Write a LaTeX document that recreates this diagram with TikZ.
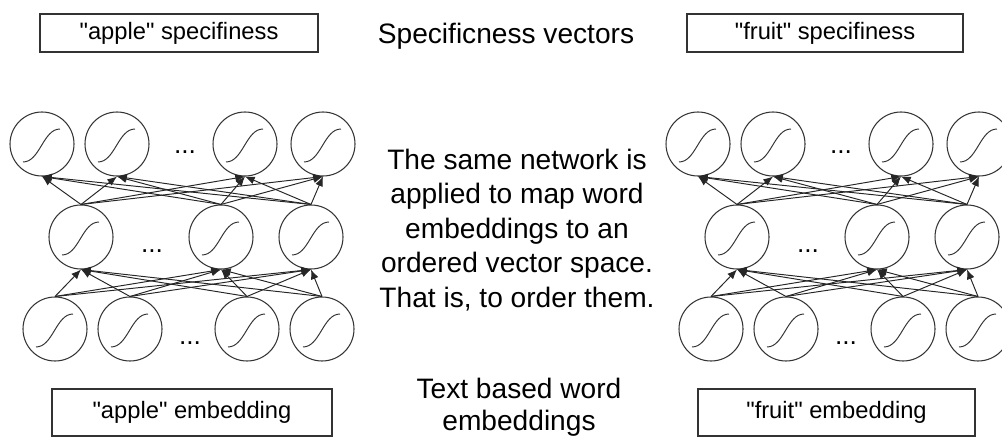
\documentclass[tikz,border=0pt]{standalone}
\usepackage{fontspec}
\setmainfont{Liberation Sans}[Ligatures=TeXOff]
\usetikzlibrary{arrows.meta}

\begin{document}
\begin{tikzpicture}[
		neuron/.style={circle, draw=black!80, line width=0.6pt, minimum size=1.28cm, inner sep=0pt,
			path picture={\draw[black!80, line width=0.55pt, shift={(path picture bounding box.center)}]
				(-0.38,-0.36) .. controls (-0.04,-0.36) and (0.02,0.30) .. (0.36,0.30);}},
		labelbox/.style={draw=black!80, line width=0.6pt, font=\fontsize{13.5}{16}\selectfont},
		bigtext/.style={align=center, inner sep=0pt, font=\fontsize{16}{19.6}\selectfont},
		dots/.style={anchor=base, inner sep=0pt, font=\fontsize{15}{18}\selectfont},
		link/.style={-{Latex[length=5.5pt, width=4.5pt]}, draw=black!85, line width=0.55pt}
	]
	\path[use as bounding box, clip] (0,0) rectangle (20.04,8.74);

	% the two networks, apple on the left, fruit on the right
	\foreach \n/\dx in {apple/0, fruit/13.12} {
		\begin{scope}[xshift=\dx cm]
			\node[neuron] (\n-t1) at (0.84,5.86) {};
			\node[neuron] (\n-t2) at (2.34,5.86) {};
			\node[neuron] (\n-t3) at (4.90,5.86) {};
			\node[neuron] (\n-t4) at (6.46,5.86) {};
			\node[dots] (\n-tdots) at (3.70,5.68) {...};

			\node[neuron] (\n-m1) at (1.62,4.00) {};
			\node[neuron] (\n-m2) at (4.42,4.00) {};
			\node[neuron] (\n-m3) at (6.22,4.00) {};
			\node[dots] (\n-mdots) at (3.04,3.70) {...};

			\node[neuron] (\n-b1) at (1.10,2.16) {};
			\node[neuron] (\n-b2) at (2.60,2.16) {};
			\node[neuron] (\n-b3) at (4.94,2.16) {};
			\node[neuron] (\n-b4) at (6.44,2.16) {};
			\node[dots] (\n-bdots) at (3.80,1.86) {...};
		\end{scope}
		\foreach \i in {1,...,4}
			\foreach \j in {1,2,3}
				\draw[link] (\n-b\i.north) -- (\n-m\j.south);
		\foreach \i in {1,2,3}
			\foreach \j in {1,...,4}
				\draw[link] (\n-m\i.north) -- (\n-t\j.south);
	}

	\node[labelbox, minimum width=5.56cm, minimum height=0.76cm] (applespec) at (3.58,8.08) {"apple" specifiness};
	\node[labelbox, minimum width=5.52cm, minimum height=0.76cm] (fruitspec) at (16.50,8.08) {"fruit" specifiness};
	\node[labelbox, minimum width=5.60cm, minimum height=0.94cm] (appleemb) at (3.84,0.49) {"apple" embedding};
	\node[labelbox, minimum width=5.54cm, minimum height=0.94cm] (fruitemb) at (16.73,0.49) {"fruit" embedding};

	\node[bigtext, anchor=base] (spectitle) at (10.12,7.86) {Specificness vectors};
	\node[bigtext, anchor=north] (note) at (10.34,5.77) {The same network is\\applied to map word\\embeddings to an\\ordered vector space.\\That is, to order them.};
	\node[bigtext, anchor=north, font=\fontsize{16}{18.2}\selectfont] (embtitle) at (10.38,1.19) {Text based word\\embeddings};
\end{tikzpicture}
\end{document}
